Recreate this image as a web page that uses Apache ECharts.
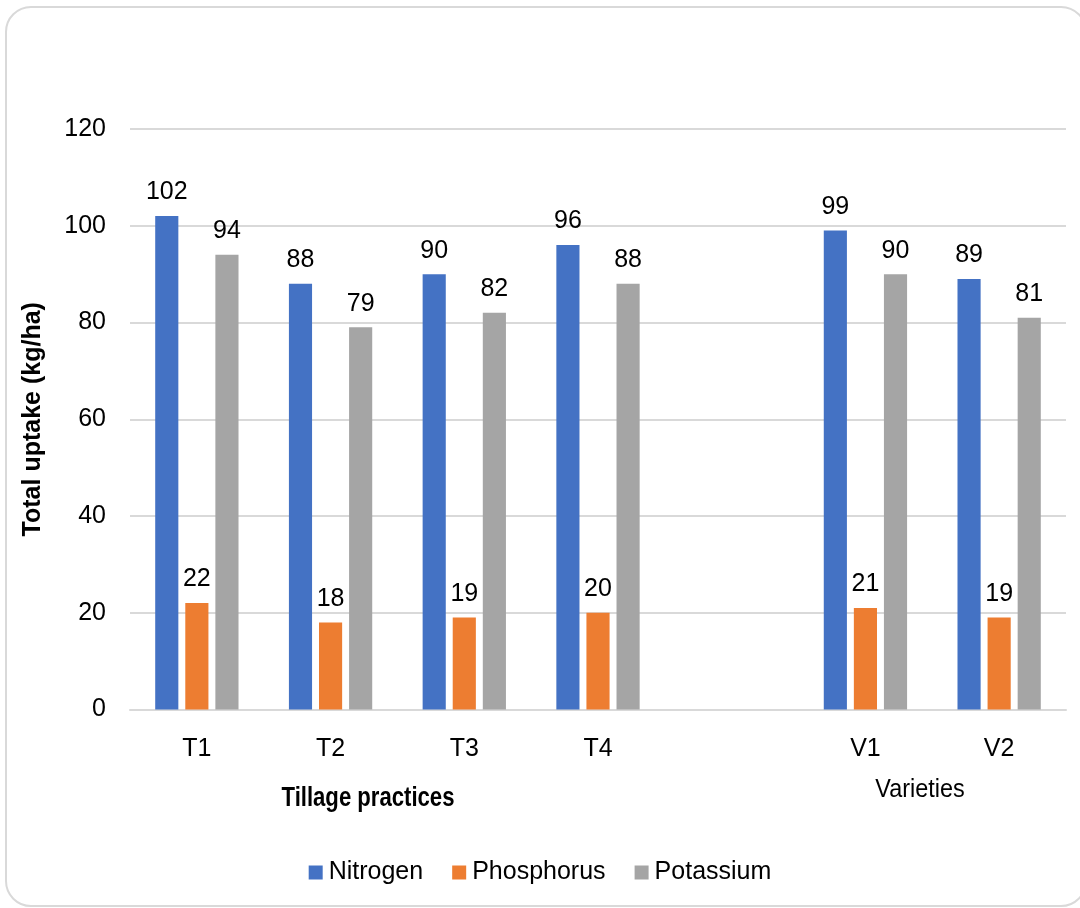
<!DOCTYPE html>
<html>
<head>
<meta charset="utf-8">
<script src="https://cdn.jsdelivr.net/npm/echarts@6/dist/echarts.min.js"></script>
<style>
html,body{margin:0;padding:0;background:#fff;}
#chart{width:1080px;height:908px;}
</style>
</head>
<body>
<div id="chart"></div>
<script>
const categories = ['T1', 'T2', 'T3', 'T4', '', 'V1', 'V2'];
const nitrogen = [102, 88, 90, 96, null, 99, 89];
const phosphorus = [22, 18, 19, 20, null, 21, 19];
const potassium = [94, 79, 82, 88, null, 90, 81];
const seriesNames = ['Nitrogen', 'Phosphorus', 'Potassium'];
const colors = ['#4472C4', '#ED7D31', '#A5A5A5'];
const yTitle = 'Total uptake (kg/ha)';
const groupTitles = ['Tillage practices', 'Varieties'];

const chart = echarts.init(document.getElementById('chart'), null, {renderer: 'canvas'});
const font = '"Liberation Sans", Arial, sans-serif';
const FS = 25;

function mk(name, data, color) {
  return {
    name: name,
    type: 'bar',
    data: data,
    barGap: '30%',
    barCategoryGap: '37.7%',
    itemStyle: {color: color},
    label: {
      show: true,
      position: 'top',
      distance: 11,
      color: '#000',
      fontSize: FS,
      fontFamily: font
    }
  };
}

chart.setOption({
  animation: false,
  backgroundColor: '#fff',
  grid: {left: 130, right: 14, top: 129, bottom: 198.5},
  legend: {
    data: seriesNames,
    bottom: 18,
    left: 'center',
    itemWidth: 14,
    itemHeight: 14,
    itemGap: 29,
    icon: 'rect',
    textStyle: {fontSize: FS, color: '#000', fontFamily: font, padding: [0, 0, 0, 1]}
  },
  xAxis: {
    type: 'category',
    data: categories,
    axisLine: {lineStyle: {color: '#d9d9d9', width: 2}},
    axisTick: {show: false},
    axisLabel: {color: '#000', fontSize: FS, fontFamily: font, margin: 27}
  },
  yAxis: {
    type: 'value',
    min: 0,
    max: 120,
    interval: 20,
    name: yTitle,
    nameLocation: 'middle',
    nameGap: 84,
    nameTextStyle: {fontSize: FS, fontWeight: 'bold', color: '#000', fontFamily: font},
    axisLine: {show: false},
    axisTick: {show: false},
    splitLine: {lineStyle: {color: '#d9d9d9', width: 2}},
    axisLabel: {color: '#000', fontSize: FS, fontFamily: font, margin: 24}
  },
  graphic: [
    {
      type: 'rect',
      shape: {x: 6, y: 7, width: 1080, height: 899, r: 25},
      style: {fill: 'none', stroke: '#d9d9d9', lineWidth: 2},
      silent: true,
      z: -1
    },
    {
      type: 'text',
      x: 368, y: 798,
      scaleX: 0.79,
      style: {text: groupTitles[0], font: 'bold 28px ' + font, fill: '#000', textAlign: 'center', textVerticalAlign: 'middle'}
    },
    {
      type: 'text',
      x: 920, y: 790,
      scaleX: 0.9,
      style: {text: groupTitles[1], font: '26px ' + font, fill: '#000', textAlign: 'center', textVerticalAlign: 'middle'}
    }
  ],
  series: [
    mk(seriesNames[0], nitrogen, colors[0]),
    mk(seriesNames[1], phosphorus, colors[1]),
    mk(seriesNames[2], potassium, colors[2])
  ]
});
</script>
</body>
</html>
